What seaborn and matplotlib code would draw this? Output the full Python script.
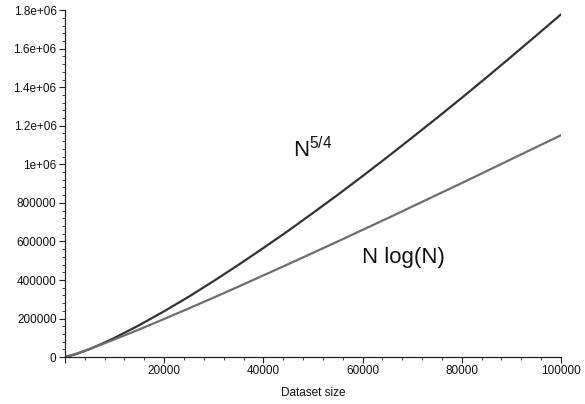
import matplotlib
matplotlib.use('Agg')
import matplotlib.pyplot as plt
from matplotlib.ticker import MultipleLocator, FuncFormatter
import pandas as pd
import seaborn as sns

# values
dataset_size = [0, 2500, 5000, 7500, 10000, 15000, 20000, 25000, 30000, 35000, 40000, 45000,
                50000, 55000, 60000, 65000, 70000, 75000, 80000, 85000, 90000, 95000, 100000]
n_pow_5_4 = [0, 17700, 42000, 69800, 100000, 166000, 238000, 314000, 395000, 479000, 566000, 655000,
             748000, 842000, 939000, 1038000, 1139000, 1241000, 1345000, 1451000, 1559000, 1668000, 1778000]
n_log_n = [0, 19600, 42600, 66900, 92100, 144000, 198000, 253000, 309000, 366000, 424000, 482000,
           541000, 600000, 660000, 720000, 781000, 842000, 903000, 965000, 1027000, 1089000, 1151000]

df = pd.DataFrame({
    'Dataset size': dataset_size * 2,
    'cost': n_pow_5_4 + n_log_n,
    'curve': ['N^5/4'] * len(dataset_size) + ['N log(N)'] * len(dataset_size),
})

sns.set_style('ticks')
plt.rcParams['font.family'] = ['Liberation Sans', 'DejaVu Sans']
plt.rcParams['mathtext.default'] = 'regular'

fig = plt.figure(figsize=(5.85, 4.04), dpi=100)
ax = fig.add_axes([0.111, 0.116, 0.848, 0.859])

sns.lineplot(data=df, x='Dataset size', y='cost', hue='curve',
             palette={'N^5/4': '#333333', 'N log(N)': '#6e6e6e'},
             linewidth=1.6, legend=False, ax=ax)

ax.set_xlim(0, 100000)
ax.set_ylim(0, 1800000)
ax.xaxis.set_major_locator(MultipleLocator(20000))
ax.xaxis.set_minor_locator(MultipleLocator(4000))
ax.yaxis.set_major_locator(MultipleLocator(200000))
ax.yaxis.set_minor_locator(MultipleLocator(40000))
ax.xaxis.set_major_formatter(FuncFormatter(lambda v, p: '' if v == 0 else '%g' % v))
ax.yaxis.set_major_formatter(FuncFormatter(lambda v, p: '%g' % v))
ax.tick_params(which='major', length=4, width=0.8, color='#222222', labelsize=8.5,
               labelcolor='#111111', pad=2)
ax.tick_params(which='minor', length=2, width=0.6, color='#222222')
for s in ['left', 'bottom']:
    ax.spines[s].set_linewidth(0.9)
    ax.spines[s].set_color('#222222')
sns.despine(ax=ax)

ax.set_xlabel('Dataset size', fontsize=8.5, color='#111111', labelpad=7)
ax.set_ylabel('')

ax.text(45900, 1037000, r'N$^{5/4}$', fontsize=16, color='#111111')
ax.text(59900, 488000, 'N log(N)', fontsize=16, color='#111111')

fig.savefig('out.png', dpi=100)
